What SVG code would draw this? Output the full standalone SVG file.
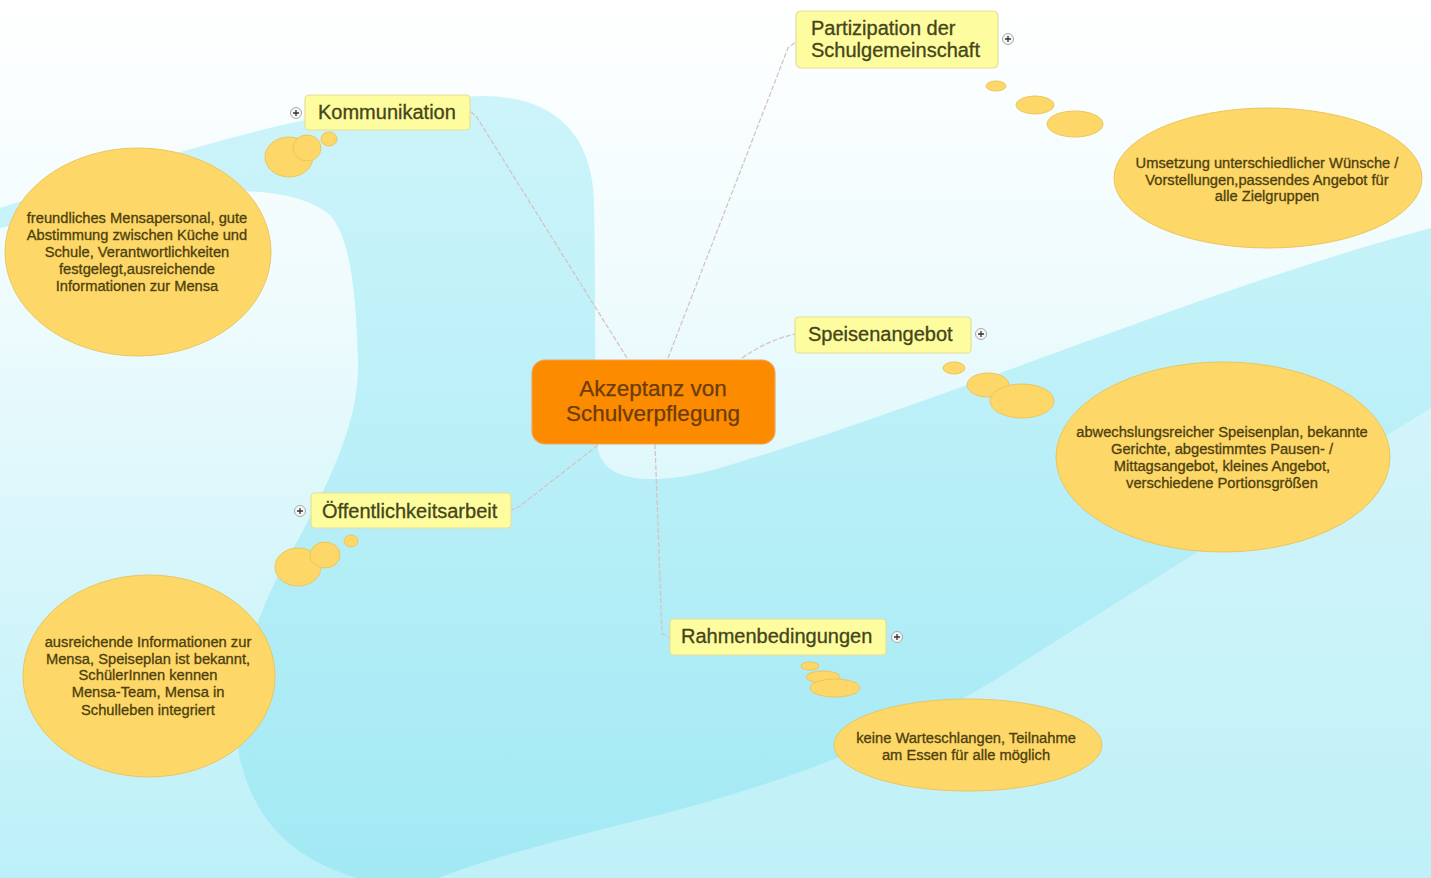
<svg xmlns="http://www.w3.org/2000/svg" width="1431" height="878" viewBox="0 0 1431 878">
<defs>
<linearGradient id="bgLight" x1="0" y1="0" x2="0" y2="1">
<stop offset="0" stop-color="#ffffff"/>
<stop offset="0.35" stop-color="#eefbfd"/>
<stop offset="0.7" stop-color="#d2f5fa"/>
<stop offset="1" stop-color="#bcf0f8"/>
</linearGradient>
<linearGradient id="ribbon" x1="0" y1="0" x2="0" y2="1">
<stop offset="0" stop-color="#cdf4fa"/>
<stop offset="0.4" stop-color="#bcf0f8"/>
<stop offset="1" stop-color="#a2e9f4"/>
</linearGradient>
<style>
.conn{fill:none;stroke:#d6c3c3;stroke-width:1.3;stroke-dasharray:5 2}
.topic{fill:#fdfc9e;stroke:#e4df9a;stroke-width:1.2}
.label{font-family:"Liberation Sans",Arial,sans-serif;font-size:20px;fill:#45451a;stroke:#45451a;stroke-width:0.3}
.bubble{fill:#fdd767;stroke:#ebc65c;stroke-width:1}
.note{font-family:"Liberation Sans",Arial,sans-serif;font-size:14.7px;fill:#4d3f0e;stroke:#4d3f0e;stroke-width:0.3;text-anchor:middle}
.exp{fill:#f6f6f6;stroke:#a9a9a9;stroke-width:1}
.expl{stroke:#333;stroke-width:1.3}
.central{fill:#fd8b00;stroke:#f0a45a;stroke-width:1.2}
.ctext{font-family:"Liberation Sans",Arial,sans-serif;font-size:22.5px;fill:#6a3c0a;stroke:#6a3c0a;stroke-width:0.25;text-anchor:middle}
</style>
</defs>
<rect x="0" y="0" width="1431" height="878" fill="url(#bgLight)"/>
<path fill="url(#ribbon)" d="M0,208 C150,160 330,100 482,96 C560,96 592,140 594,200 C596,300 594,400 598,450 C606,485 660,485 720,468 C950,400 1200,290 1431,228 L1431,408 C1300,490 1150,580 995,680 C880,750 760,790 639,820 C560,840 500,855 438,878 L356,878 C300,860 258,830 240,760 C228,690 260,600 298,540 C330,480 360,420 358,360 C356,300 352,240 330,215 C300,190 240,188 184,193 C120,200 60,215 0,228 Z"/>
<path fill="#c3f1f8" opacity="0.55" d="M1431,408 C1300,490 1150,580 995,680 C880,750 760,790 639,820 C560,840 500,855 438,878 L1431,878 Z"/>
<g id="connectors">
<path class="conn" d="M627,358 L476,116 L470,111"/>
<path class="conn" d="M668,358 L788,48 L796,42"/>
<path class="conn" d="M742,358 Q768,340 795,334"/>
<path class="conn" stroke="#eeeeee" d="M598,445 L520,506 L511,510"/>
<path class="conn" d="M655,444 L662,634 L670,637"/>
</g>
<g id="central">
<rect class="central" x="532" y="360" width="243" height="84" rx="13"/>
<text class="ctext" x="653" y="396">Akzeptanz von</text>
<text class="ctext" x="653" y="421">Schulverpflegung</text>
</g>
<g id="kommunikation">
<rect class="topic" x="305" y="95" width="165" height="35" rx="4"/>
<text class="label" x="318" y="119">Kommunikation</text>
<circle class="exp" cx="296" cy="113" r="5.5"/>
<path class="expl" d="M293,113 H299 M296,110 V116"/>
</g>
<g id="kommunikation-note">
<ellipse class="bubble" cx="329" cy="139" rx="8" ry="7"/>
<ellipse class="bubble" cx="289" cy="157" rx="24" ry="20"/>
<ellipse class="bubble" cx="307" cy="148" rx="14" ry="13"/>
<ellipse class="bubble" cx="138" cy="252" rx="133" ry="104"/>
<text class="note" x="137" y="223">freundliches Mensapersonal, gute</text>
<text class="note" x="137" y="240">Abstimmung zwischen Küche und</text>
<text class="note" x="137" y="257">Schule, Verantwortlichkeiten</text>
<text class="note" x="137" y="274">festgelegt,ausreichende</text>
<text class="note" x="137" y="291">Informationen zur Mensa</text>
</g>
<g id="partizipation">
<rect class="topic" x="796" y="11" width="202" height="57" rx="5"/>
<text class="label" x="811" y="35">Partizipation der</text>
<text class="label" x="811" y="57">Schulgemeinschaft</text>
<circle class="exp" cx="1008" cy="39" r="5.5"/>
<path class="expl" d="M1005,39 H1011 M1008,36 V42"/>
</g>
<g id="partizipation-note">
<ellipse class="bubble" cx="996" cy="86" rx="10" ry="5"/>
<ellipse class="bubble" cx="1035" cy="105" rx="19" ry="9"/>
<ellipse class="bubble" cx="1075" cy="124" rx="28" ry="13"/>
<ellipse class="bubble" cx="1268" cy="178" rx="154" ry="70"/>
<text class="note" x="1267" y="168">Umsetzung unterschiedlicher Wünsche /</text>
<text class="note" x="1267" y="185">Vorstellungen,passendes Angebot für</text>
<text class="note" x="1267" y="201">alle Zielgruppen</text>
</g>
<g id="speisenangebot">
<rect class="topic" x="795" y="317" width="176" height="36" rx="4"/>
<text class="label" x="808" y="341">Speisenangebot</text>
<circle class="exp" cx="981" cy="334" r="5.5"/>
<path class="expl" d="M978,334 H984 M981,331 V337"/>
</g>
<g id="speisenangebot-note">
<ellipse class="bubble" cx="954" cy="368" rx="11" ry="6"/>
<ellipse class="bubble" cx="988" cy="385" rx="21" ry="12"/>
<ellipse class="bubble" cx="1022" cy="401" rx="32" ry="17"/>
<ellipse class="bubble" cx="1223" cy="457" rx="167" ry="95"/>
<text class="note" x="1222" y="437">abwechslungsreicher Speisenplan, bekannte</text>
<text class="note" x="1222" y="454">Gerichte, abgestimmtes Pausen- /</text>
<text class="note" x="1222" y="471">Mittagsangebot, kleines Angebot,</text>
<text class="note" x="1222" y="488">verschiedene Portionsgrößen</text>
</g>
<g id="oeffentlichkeitsarbeit">
<rect class="topic" x="311" y="493" width="200" height="35" rx="4"/>
<text class="label" x="322" y="518">Öffentlichkeitsarbeit</text>
<circle class="exp" cx="300" cy="511" r="5.5"/>
<path class="expl" d="M297,511 H303 M300,508 V514"/>
</g>
<g id="oeffentlichkeitsarbeit-note">
<ellipse class="bubble" cx="351" cy="541" rx="7" ry="6"/>
<ellipse class="bubble" cx="298" cy="567" rx="23" ry="19"/>
<ellipse class="bubble" cx="325" cy="555" rx="15" ry="13"/>
<ellipse class="bubble" cx="149" cy="676" rx="126" ry="101"/>
<text class="note" x="148" y="647">ausreichende Informationen zur</text>
<text class="note" x="148" y="664">Mensa, Speiseplan ist bekannt,</text>
<text class="note" x="148" y="680">SchülerInnen kennen</text>
<text class="note" x="148" y="697">Mensa-Team, Mensa in</text>
<text class="note" x="148" y="715">Schulleben integriert</text>
</g>
<g id="rahmenbedingungen">
<rect class="topic" x="670" y="619" width="216" height="36" rx="4"/>
<text class="label" x="681" y="643">Rahmenbedingungen</text>
<circle class="exp" cx="897" cy="637" r="5.5"/>
<path class="expl" d="M894,637 H900 M897,634 V640"/>
</g>
<g id="rahmenbedingungen-note">
<ellipse class="bubble" cx="810" cy="666" rx="9" ry="4"/>
<ellipse class="bubble" cx="823" cy="677" rx="17" ry="6"/>
<ellipse class="bubble" cx="835" cy="688" rx="25" ry="9"/>
<ellipse class="bubble" cx="968" cy="745" rx="134" ry="46"/>
<text class="note" x="966" y="743">keine Warteschlangen, Teilnahme</text>
<text class="note" x="966" y="760">am Essen für alle möglich</text>
</g>
</svg>
